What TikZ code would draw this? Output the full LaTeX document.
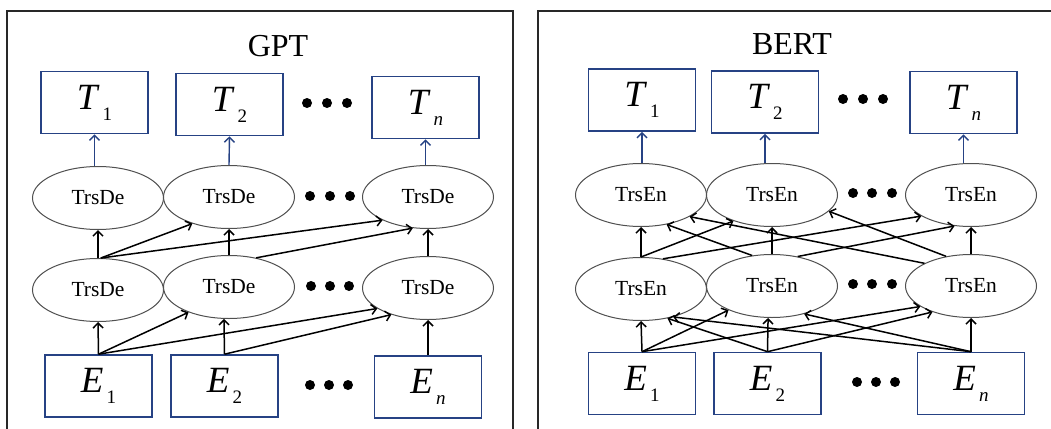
\documentclass[tikz,border=0pt]{standalone}
\usepackage{fontspec}
\setmainfont{Liberation Serif}
\usetikzlibrary{shapes.geometric,arrows.meta}
\definecolor{boxblue}{RGB}{38,66,132}
\definecolor{ellgray}{RGB}{80,80,80}
\definecolor{framegray}{RGB}{40,40,40}
\newcommand{\lbl}[2]{\textit{#1}\hspace{3pt}\raisebox{-11pt}{\fontsize{19}{19}\selectfont #2}}
\begin{document}
\begin{tikzpicture}[x=1pt,y=-1pt,
  tokbox/.style={draw=boxblue,line width=1.6pt,minimum width=107pt,minimum height=62pt,inner sep=0pt,font=\fontsize{37}{37}\selectfont},
  trs/.style={ellipse,draw=ellgray,line width=1pt,fill=white,minimum width=131pt,minimum height=63pt,inner sep=0pt,font=\fontsize{21.5}{21.5}\selectfont},
  arr/.style={-{Straight Barb[length=5pt,width=10pt]},line width=1.5pt,black},
  tarr/.style={-{Straight Barb[length=5pt,width=10pt]},line width=1.4pt,boxblue},
  dotc/.style={circle,fill=black,inner sep=0pt,minimum size=10pt},
  ttl/.style={font=\fontsize{32}{32}\selectfont}]
\useasboundingbox (0,0) rectangle (1051,428);
\clip (0,0) rectangle (1051,428);
\fill[white] (0,0) rectangle (1051,428);
% frames
\draw[framegray,line width=1.5pt] (7,440) -- (7,11) -- (513,11) -- (513,440);
\draw[framegray,line width=1.5pt] (538,440) -- (538,11) -- (1060,11);
% titles
\node[ttl] (gtitle) at (278,46) {GPT};
\node[ttl] (btitle) at (792,44) {BERT};
% ---------- GPT ----------
\node[tokbox] (gT1) at (94.5,102.5) {\lbl{T}{1}};
\node[tokbox] (gT2) at (229.5,104.5) {\lbl{T}{2}};
\node[tokbox] (gTn) at (425.5,107.5) {\lbl{T}{\textit{n}}};
\node[trs] (gt1) at (98,198) {TrsDe};
\node[trs] (gt2) at (229,197) {TrsDe};
\node[trs] (gt3) at (428,197) {TrsDe};
\node[trs] (gb1) at (98,290) {TrsDe};
\node[trs] (gb2) at (229,287) {TrsDe};
\node[trs] (gb3) at (428,288) {TrsDe};
\node[tokbox] (gE1) at (98.5,386) {\lbl{E}{1}};
\node[tokbox] (gE2) at (224.5,386) {\lbl{E}{2}};
\node[tokbox] (gEn) at (428,387) {\lbl{E}{\textit{n}}};
\foreach \i/\x in {a/307,b/327,c/347}{\node[dotc] (gdT\i) at (\x,103) {};}
\foreach \i/\x in {a/310,b/330,c/350}{\node[dotc] (gdt\i) at (\x,196) {};}
\foreach \i/\x in {a/311,b/330,c/349}{\node[dotc] (gdb\i) at (\x,286) {};}
\foreach \i/\x in {a/310,b/329,c/348}{\node[dotc] (gdE\i) at (\x,385) {};}
\draw[arr] (gE1.north) -- (gb1.south);
\draw[arr] (gE1.north) -- (gb2.212);
\draw[arr] (gE1.north) -- (gb3.202);
\draw[arr] (gE2.north) -- (gb2.261);
\draw[arr] (gE2.north) -- (gb3.216);
\draw[arr] (gEn.north) -- (gb3.south);
\draw[arr] (gb1.north) -- (gt1.south);
\draw[arr] (gb1.85) -- (gt2.216);
\draw[arr] (gb1.85) -- (gt3.207);
\draw[arr] (gb2.north) -- (gt2.south);
\draw[arr] (gb2.47) -- (gt3.244);
\draw[arr] (gb3.north) -- (gt3.south);
\draw[tarr] (gT1.south |- gt1.north) -- (gT1.south);
\draw[tarr] (gt2.north) -- (gT2.south);
\draw[tarr] (gTn.south |- gt3.north) -- (gTn.south);
% ---------- BERT ----------
\node[tokbox] (bT1) at (642,100) {\lbl{T}{1}};
\node[tokbox] (bT2) at (765,102) {\lbl{T}{2}};
\node[tokbox] (bTn) at (963.5,102.5) {\lbl{T}{\textit{n}}};
\node[trs] (bf1) at (641,195) {TrsEn};
\node[trs] (bf2) at (772,195) {TrsEn};
\node[trs] (bf3) at (971,195) {TrsEn};
\node[trs] (be1) at (641,289) {TrsEn};
\node[trs] (be2) at (772,286) {TrsEn};
\node[trs] (be3) at (971,286) {TrsEn};
\node[tokbox] (bE1) at (642,383.5) {\lbl{E}{1}};
\node[tokbox] (bE2) at (767.5,383.5) {\lbl{E}{2}};
\node[tokbox] (bEn) at (971,383.5) {\lbl{E}{\textit{n}}};
\foreach \i/\x in {a/843,b/863,c/883}{\node[dotc] (bdT\i) at (\x,99) {};}
\foreach \i/\x in {a/853,b/872,c/892}{\node[dotc] (bdf\i) at (\x,193) {};}
\foreach \i/\x in {a/853,b/872,c/892}{\node[dotc] (bde\i) at (\x,284) {};}
\foreach \i/\x in {a/857,b/876,c/895}{\node[dotc] (bdE\i) at (\x,382) {};}
\draw[arr] (bE1.north) -- (be1.south);
\draw[arr] (bE1.north) -- (be2.209);
\draw[arr] (bE1.north) -- (be3.202);
\draw[arr] (bE2.north) -- (be1.312);
\draw[arr] (bE2.north) -- (be2.263);
\draw[arr] (bE2.north) -- (be3.214);
\draw[arr] (bEn.north) -- (be1.319);
\draw[arr] (bEn.north) -- (be2.319);
\draw[arr] (bEn.north) -- (be3.south);
\draw[arr] (be1.north) -- (bf1.south);
\draw[arr] (be1.north) -- (bf2.214);
\draw[arr] (be1.54) -- (bf3.203);
\draw[arr] (be2.123) -- (bf1.311);
\draw[arr] (be2.north) -- (bf2.south);
\draw[arr] (be2.49) -- (bf3.242);
\draw[arr] (be3.154) -- (bf1.336);
\draw[arr] (be3.130) -- (bf2.344);
\draw[arr] (be3.north) -- (bf3.south);
\draw[tarr] (bT1.south |- bf1.north) -- (bT1.south);
\draw[tarr] (bT2.south |- bf2.north) -- (bT2.south);
\draw[tarr] (bTn.south |- bf3.north) -- (bTn.south);
\end{tikzpicture}
\end{document}
